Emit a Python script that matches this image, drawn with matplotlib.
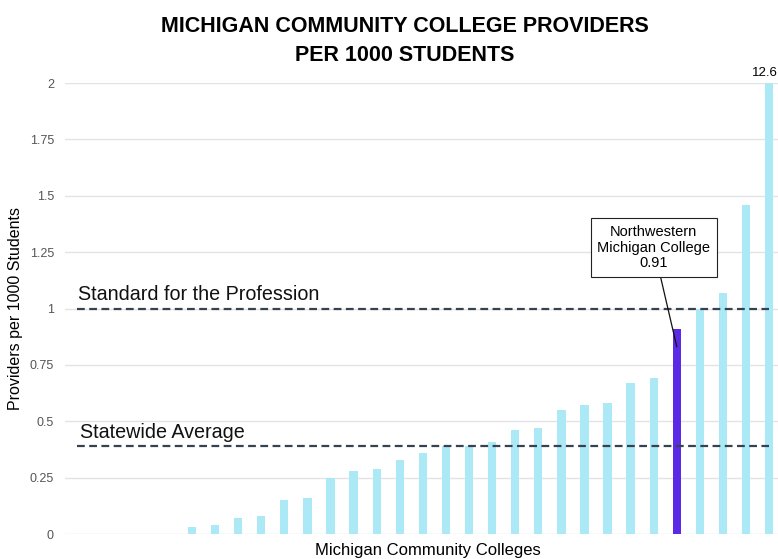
import numpy as np
import matplotlib
matplotlib.use('agg')
import matplotlib.pyplot as plt

plt.rcParams['font.family'] = ['Liberation Sans', 'DejaVu Sans']

# 31 colleges, sorted; the first five have no providers
values = [0, 0, 0, 0, 0,
          0.03, 0.04, 0.07, 0.08, 0.15, 0.16, 0.25, 0.28, 0.29, 0.33,
          0.36, 0.39, 0.39, 0.41, 0.46, 0.47, 0.55, 0.57, 0.58, 0.67,
          0.69, 0.91, 1.00, 1.07, 1.46, 12.6]
highlight = 26  # Northwestern Michigan College
standard = 1.0
state_avg = 0.39
yticks = [0, 0.25, 0.5, 0.75, 1, 1.25, 1.5, 1.75, 2]
yticklabels = ['0', '0.25', '0.5', '0.75', '1', '1.25', '1.5', '1.75', '2']

bar_col = '#abe9f7'
hi_col = '#5a2ae6'
line_col = '#36424f'

fig = plt.figure(figsize=(7.78, 5.59), dpi=100)
ax = fig.add_axes([0.0835, 0.0447, 0.92, 0.8068])

x = np.arange(len(values))
cols = [hi_col if i == highlight else bar_col for i in x]
ax.bar(x, values, width=0.36, color=cols, zorder=2)

ax.set_xlim(-0.5, len(values) - 0.5)
ax.set_ylim(0, 2)
ax.set_yticks(yticks)
ax.set_yticklabels(yticklabels, fontsize=9, color='#555555')
ax.set_xticks([])
ax.tick_params(axis='y', length=0, pad=8)
ax.grid(axis='y', color='#e3e3e3', lw=1, zorder=0)
for s in ax.spines.values():
	s.set_visible(False)

# reference lines
ax.plot([0, len(values) - 1], [standard, standard], ls=(0, (3.5, 2)), color=line_col, lw=1.6, zorder=3)
ax.plot([0, len(values) - 1], [state_avg, state_avg], ls=(0, (3.5, 2)), color=line_col, lw=1.6, zorder=3)
ax.text(0.05, standard + 0.02, 'Standard for the Profession', fontsize=14.2, ha='left', va='bottom', color='#111111')
ax.text(0.15, state_avg + 0.02, 'Statewide Average', fontsize=14.2, ha='left', va='bottom', color='#111111')

# value label for clipped bar
ax.text(x[-1] - 0.2, 2.02, '12.6', fontsize=9.5, ha='center', va='bottom', clip_on=False)

# callout for NMC
ax.annotate('Northwestern\nMichigan College\n' + '%.2f' % values[highlight],
	xy=(highlight, 0.83), xytext=(highlight - 1.0, 1.27),
	fontsize=10.5, ha='center', va='center', linespacing=1.15,
	bbox=dict(boxstyle='square,pad=0.45', fc='white', ec='#222222', lw=0.8),
	arrowprops=dict(arrowstyle='-', color='#111111', lw=0.9, shrinkA=0, shrinkB=0),
	zorder=5)

ax.set_ylabel('Providers per 1000 Students', fontsize=11.5)
ax.yaxis.set_label_coords(-0.058, 0.5)
fig.text(0.55, 0.002, 'Michigan Community Colleges', fontsize=12, ha='center', va='bottom')
fig.text(0.52, 0.972, 'MICHIGAN COMMUNITY COLLEGE PROVIDERS\nPER 1000 STUDENTS',
	fontsize=15.5, fontweight='bold', ha='center', va='top', linespacing=1.55)

fig.savefig('out.png', dpi=100)
